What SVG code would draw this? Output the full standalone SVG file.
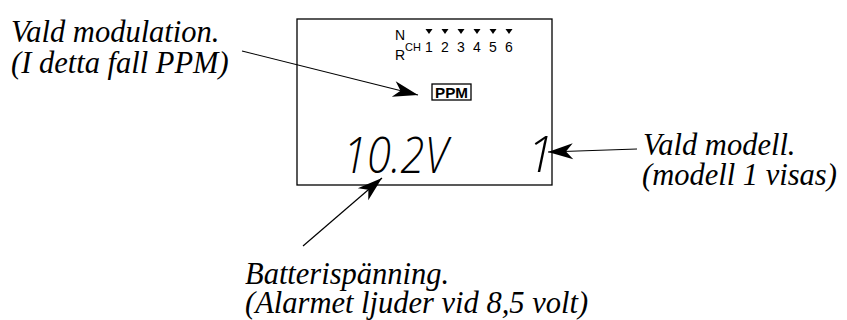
<svg xmlns="http://www.w3.org/2000/svg" width="847" height="320" viewBox="0 0 847 320">
<style>
.lbl{font-family:"Liberation Serif","Times New Roman",serif;font-style:italic;font-size:30.5px;fill:#000}
.sans{font-family:"Liberation Sans",Arial,sans-serif;fill:#000}
.seg{font-family:"Open Sans",Lato,sans-serif;font-weight:300;font-style:italic;fill:#000}
.conn{stroke:#000;stroke-width:1.2;fill:none}
</style>
<defs>
<marker id="dart" markerUnits="userSpaceOnUse" markerWidth="30" markerHeight="20" viewBox="-26 -10 28 20" refX="0" refY="0" orient="auto">
<path d="M0,0 L-25,-8 L-18,0 L-25,8 Z" fill="#000"/>
</marker>
</defs>
<rect width="847" height="320" fill="#fff"/>
<g id="display">
<rect x="297" y="19" width="255" height="166" fill="none" stroke="#000" stroke-width="1.3"/>
<text class="sans" x="395" y="40" font-size="14">N</text>
<text class="sans" x="395" y="60" font-size="14">R</text>
<text class="sans" x="405" y="51" font-size="11">CH</text>
<g class="sans" font-size="14" text-anchor="middle">
<text x="429" y="52">1</text>
<text x="445" y="52">2</text>
<text x="461" y="52">3</text>
<text x="477" y="52">4</text>
<text x="493" y="52">5</text>
<text x="509" y="52">6</text>
</g>
<g fill="#000">
<polygon points="425.5,29 432.5,29 429,34"/>
<polygon points="441.5,29 448.5,29 445,34"/>
<polygon points="457.5,29 464.5,29 461,34"/>
<polygon points="473.5,29 480.5,29 477,34"/>
<polygon points="489.5,29 496.5,29 493,34"/>
<polygon points="505.5,29 512.5,29 509,34"/>
</g>
<rect x="432" y="84" width="39" height="16" fill="none" stroke="#000" stroke-width="1.3"/>
<text class="sans" x="451.5" y="97.5" font-size="14" font-weight="bold" text-anchor="middle" textLength="33" lengthAdjust="spacingAndGlyphs">PPM</text>
<text class="seg" x="343" y="173" font-size="49" textLength="105" lengthAdjust="spacingAndGlyphs">10.2V</text>
<text class="seg" x="527" y="172" font-size="49">1</text>
</g>
<g id="label-modulation">
<text class="lbl" x="11" y="42">Vald modulation.</text>
<text class="lbl" x="11" y="73">(I detta fall PPM)</text>
</g>
<g id="label-model">
<text class="lbl" x="643" y="155">Vald modell.</text>
<text class="lbl" x="642" y="185">(modell 1 visas)</text>
</g>
<g id="label-battery">
<text class="lbl" x="245" y="284">Batterispänning.</text>
<text class="lbl" x="245" y="313">(Alarmet ljuder vid 8,5 volt)</text>
</g>
<g id="connectors">
<line class="conn" x1="242" y1="51" x2="418" y2="95" marker-end="url(#dart)"/>
<line class="conn" x1="637" y1="149" x2="548" y2="152" marker-end="url(#dart)"/>
<line class="conn" x1="303" y1="246" x2="382" y2="178" marker-end="url(#dart)"/>
</g>
</svg>
